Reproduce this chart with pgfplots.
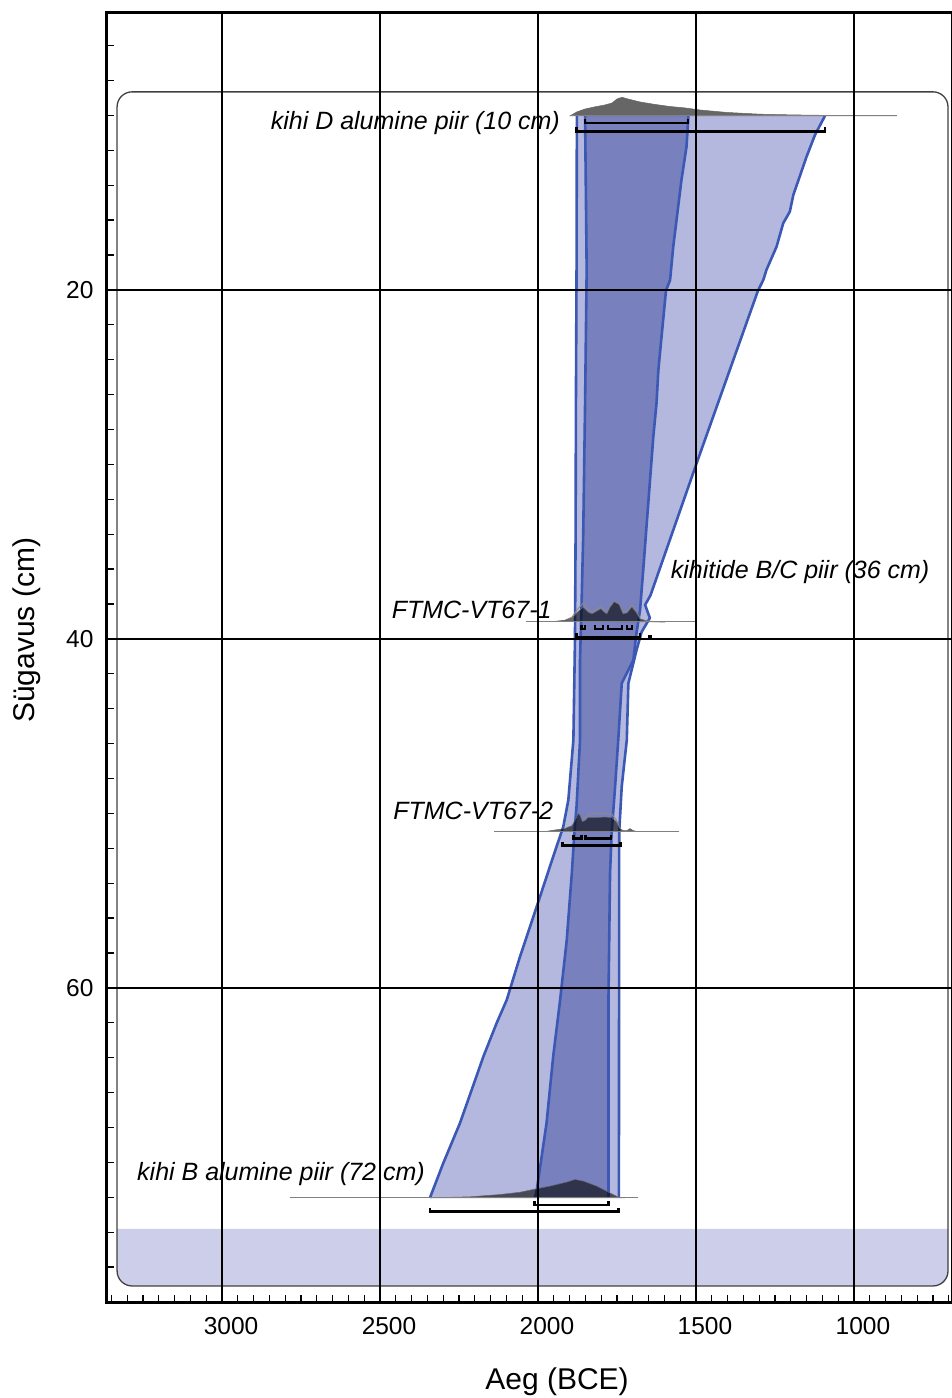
\documentclass[border=0pt]{standalone}
\usepackage{fontspec}
\setmainfont{Liberation Sans}
\usepackage{pgfplots}
\pgfplotsset{compat=1.18}
\definecolor{lightenv}{HTML}{B5B8DE}
\definecolor{darkenv}{HTML}{7980BE}
\definecolor{edgeblue}{HTML}{3B58B5}
\definecolor{bandc}{HTML}{CDCEEA}
\definecolor{baseg}{HTML}{808080}
\begin{document}
\begin{tikzpicture}[x=1pt,y=1pt]
\useasboundingbox (-107,-96) rectangle (844,1302);
\begin{axis}[
  at={(0,0)}, anchor=south west,
  scale only axis, width=846pt, height=1289pt,
  x dir=reverse, y dir=reverse,
  xmin=686.7, xmax=3364, ymin=4.13, ymax=78,
  axis line style={line width=3pt},
  xtick={500,1000,1500,2000,2500,3000,3500},
  ytick={0,20,40,60,80},
  minor x tick num=9, minor y tick num=9,
  xtick pos=lower, ytick pos=left,
  tick align=inside,
  major tick length=11pt, minor tick length=7pt,
  major tick style={black, line width=2.2pt},
  minor tick style={black, line width=1.3pt},
  grid=major,
  major grid style={black, line width=1.4pt},
  axis on top,
  /pgf/number format/assume math mode=true,
  /pgf/number format/1000 sep={},
  tick label style={font=\fontsize{24.5}{28}\selectfont},
  xticklabel style={yshift=-12pt, xshift=9pt},
  yticklabel style={xshift=-10pt},
  xlabel={Aeg (BCE)},
  ylabel={Sügavus (cm)},
  label style={font=\fontsize{30}{34}\selectfont},
  xlabel style={at={(axis description cs:0.532,-0.0621)}, anchor=center},
  ylabel style={at={(axis description cs:-0.0946,0.521)}, anchor=center},
]
% background band and rounded box
\fill[bandc] (axis cs:3332,73.81) {[rounded corners=15pt] -- (axis cs:3332,77.08) -- (axis cs:702.5,77.08)} -- (axis cs:702.5,73.81) -- cycle;
\draw[black!75, line width=1.3pt, rounded corners=15pt] (axis cs:3332,8.65) rectangle (axis cs:702.5,77.08);

% outer (light) envelope
\addplot[fill=lightenv, draw=none] coordinates {
(1877,10.03) (1878,18.85) (1880,26.5) (1881,34) (1883,40.06) (1888,45.79) (1904,49.23) (1920,50.76) (1952,52.48) (2004,55.34) (2057,58.21) (2099,60.69) (2131,62.02) (2173,63.94) (2210,65.85) (2247,67.75) (2300,70.05) (2342,72.03)
(1744,72.03) (1743,51.04) (1735,48.46) (1719,45.79) (1714,42.54) (1688,40.63) (1672,39.6) (1646,38.8) (1661,38.05) (1644,37.5) (1498,29.93) (1304,20.05) (1287,19.43) (1277,18.85) (1245,17.52) (1224,16.18) (1203,15.51) (1192,14.56) (1150,12.36) (1123.5,11.12) (1092,10.03)
} -- cycle;
% inner (dark) envelope
\addplot[fill=darkenv, draw=none] coordinates {
(1851,10.03) (1846,18.85) (1851,26.5) (1857,34.1) (1862,37.9) (1867,41.2) (1867,45.79) (1878,49.6) (1885,51.14) (1893,53.43) (1909,57.25) (1930,60.69) (1952,63.94) (1973,67.75) (2004,71.6) (2010,72.03)
(1777,72.03) (1777,60.69) (1772,53.43) (1767,51.14) (1756,48.46) (1746,45.79) (1735,42.54) (1698,41.2) (1690,39.87) (1677,38.34) (1667,36.05) (1651,32.22) (1635,28.4) (1625,26.5) (1619,24.58) (1609,22.68) (1595,20.04) (1582,19.43) (1572,17.52) (1546,13.7) (1530,11.79) (1524,10.03)
} -- cycle;
% edges
\pgfplotsset{edge/.style={edgeblue, line width=2.6pt, line join=round}}
\addplot[edge] coordinates {
(1877,10.03) (1878,18.85) (1880,26.5) (1881,34) (1883,40.06) (1888,45.79) (1904,49.23) (1920,50.76) (1952,52.48) (2004,55.34) (2057,58.21) (2099,60.69) (2131,62.02) (2173,63.94) (2210,65.85) (2247,67.75) (2300,70.05) (2342,72.03)};
\addplot[edge] coordinates {
(1744,72.03) (1743,51.04) (1735,48.46) (1719,45.79) (1714,42.54) (1688,40.63) (1672,39.6) (1646,38.8) (1661,38.05) (1644,37.5) (1498,29.93) (1304,20.05) (1287,19.43) (1277,18.85) (1245,17.52) (1224,16.18) (1203,15.51) (1192,14.56) (1150,12.36) (1123.5,11.12) (1092,10.03)};
\addplot[edge] coordinates {
(1851,10.03) (1846,18.85) (1851,26.5) (1857,34.1) (1862,37.9) (1867,41.2) (1867,45.79) (1878,49.6) (1885,51.14) (1893,53.43) (1909,57.25) (1930,60.69) (1952,63.94) (1973,67.75) (2004,71.6) (2010,72.03)};
\addplot[edge] coordinates {
(1777,72.03) (1777,60.69) (1772,53.43) (1767,51.14) (1756,48.46) (1746,45.79) (1735,42.54) (1698,41.2) (1690,39.87) (1677,38.34) (1667,36.05) (1651,32.22) (1635,28.4) (1625,26.5) (1619,24.58) (1609,22.68) (1595,20.04) (1582,19.43) (1572,17.52) (1546,13.7) (1530,11.79) (1524,10.03)};

% densities
\addplot[fill=black, fill opacity=0.6, draw=black!60, line width=0.5pt] coordinates {
(1899,10.03) (1877,9.80) (1851,9.63) (1820,9.51) (1788,9.40) (1766,9.29) (1750,9.06) (1734,8.96) (1715,9.06) (1677,9.23) (1630,9.37) (1582,9.49) (1535,9.57) (1487,9.69) (1402,9.83) (1297,9.93) (1193,9.97) (1076,10.00) (864,10.03)} -- cycle;
\addplot[draw=black!45, line width=0.9pt] coordinates {
(1946,39.00) (1915,38.94) (1892,38.74) (1877,38.34) (1858,37.96) (1842,38.30) (1829,38.46) (1813,38.30) (1801,38.15) (1791,38.34) (1782,38.51) (1772,38.15) (1759,37.85) (1744,38.00) (1731,38.46) (1718,38.40) (1703,38.08) (1690,38.36) (1677,38.86) (1658,38.97) (1630,39.01) (1598,39.03)};
\addplot[fill=black, fill opacity=0.6, draw=black!60, line width=0.5pt] coordinates {
(1946,39.00) (1915,38.94) (1892,38.80) (1877,38.51) (1858,38.18) (1842,38.46) (1829,38.57) (1813,38.40) (1801,38.28) (1791,38.46) (1782,38.57) (1772,38.20) (1759,37.88) (1744,38.02) (1731,38.57) (1718,38.51) (1703,38.18) (1690,38.46) (1677,38.86) (1658,38.97) (1630,39.01) (1598,39.03)} -- cycle;
\addplot[draw=black!45, line width=0.9pt] coordinates {
(1860,50.47) (1851,50.35) (1842,50.06) (1820,50.01) (1788,49.98) (1766,50.06) (1753,50.35) (1740.5,50.87)};
\addplot[fill=black, fill opacity=0.6, draw=black!60, line width=0.5pt] coordinates {
(1978,51.04) (1946,50.95) (1915,50.87) (1892,50.70) (1880,50.30) (1872.5,50.01) (1867,50.12) (1860,50.47) (1851,50.41) (1842,50.24) (1820,50.24) (1788,50.21) (1766,50.24) (1753,50.47) (1740.5,50.87) (1731,50.98) (1718,50.98) (1709,50.87) (1699,50.98) (1687,51.04)} -- cycle;
\addplot[fill=black, fill opacity=0.6, draw=black!60, line width=0.5pt] coordinates {
(2342,72.03) (2215,71.97) (2120,71.84) (2057,71.71) (2015,71.55) (1962,71.36) (1909,71.13) (1883,70.98) (1857,71.07) (1814.5,71.36) (1777.5,71.70) (1746,71.99) (1725,72.03)} -- cycle;

% density baselines
\addplot[baseg, line width=1pt] coordinates {(1899,10.03) (864,10.03)};
\addplot[baseg, line width=1pt] coordinates {(2038,39.03) (1503,39.03)};
\addplot[baseg, line width=1pt] coordinates {(2139,51.04) (1553,51.04)};
\addplot[baseg, line width=1pt] coordinates {(2785,72.03) (1684,72.03)};

% calibrated ranges (brackets)
\pgfplotsset{br/.style={black, line width=2.8pt}}
\addplot[br] coordinates {(1851,10.20) (1851,10.43) (1525,10.43) (1525,10.20)};
\addplot[br] coordinates {(1877,10.66) (1877,10.90) (1092,10.90) (1092,10.66)};
\addplot[br, line width=2.3pt] coordinates {(1862,39.22) (1862,39.43) (1852,39.43) (1852,39.22)};
\addplot[br, line width=2.3pt] coordinates {(1820,39.22) (1820,39.43) (1795,39.43) (1795,39.22)};
\addplot[br, line width=2.3pt] coordinates {(1779,39.22) (1779,39.43) (1734,39.43) (1734,39.22)};
\addplot[br, line width=2.3pt] coordinates {(1718,39.22) (1718,39.43) (1702,39.43) (1702,39.22)};
\addplot[br] coordinates {(1878,39.68) (1878,39.89) (1677,39.89) (1677,39.68)};
\addplot[br] coordinates {(1649,39.80) (1649,39.89) (1643,39.89) (1643,39.80)};
\addplot[br, line width=2.3pt] coordinates {(1888,51.22) (1888,51.43) (1862,51.43) (1862,51.22)};
\addplot[br, line width=2.3pt] coordinates {(1850,51.22) (1850,51.43) (1770,51.43) (1770,51.22)};
\addplot[br] coordinates {(1922,51.63) (1922,51.86) (1740,51.86) (1740,51.63)};
\addplot[br] coordinates {(2010,72.21) (2010,72.44) (1777.5,72.44) (1777.5,72.21)};
\addplot[br] coordinates {(2342,72.59) (2342,72.82) (1744,72.82) (1744,72.59)};

% labels
\tikzset{lab/.style={inner sep=0pt, font=\fontsize{25}{30}\selectfont\itshape}}
\node[lab, anchor=base west] at (axis cs:2846,10.80) {kihi D alumine piir (10 cm)};
\node[lab, anchor=base west] at (axis cs:1580,36.52) {kihitide B/C piir (36 cm)};
\node[lab, anchor=base east] at (axis cs:1956.6,38.81) {FTMC-VT67-1};
\node[lab, anchor=base east] at (axis cs:1951.6,50.37) {FTMC-VT67-2};
\node[lab, anchor=base west] at (axis cs:3269,71.06) {kihi B alumine piir (72 cm)};
\end{axis}
\end{tikzpicture}
\end{document}
